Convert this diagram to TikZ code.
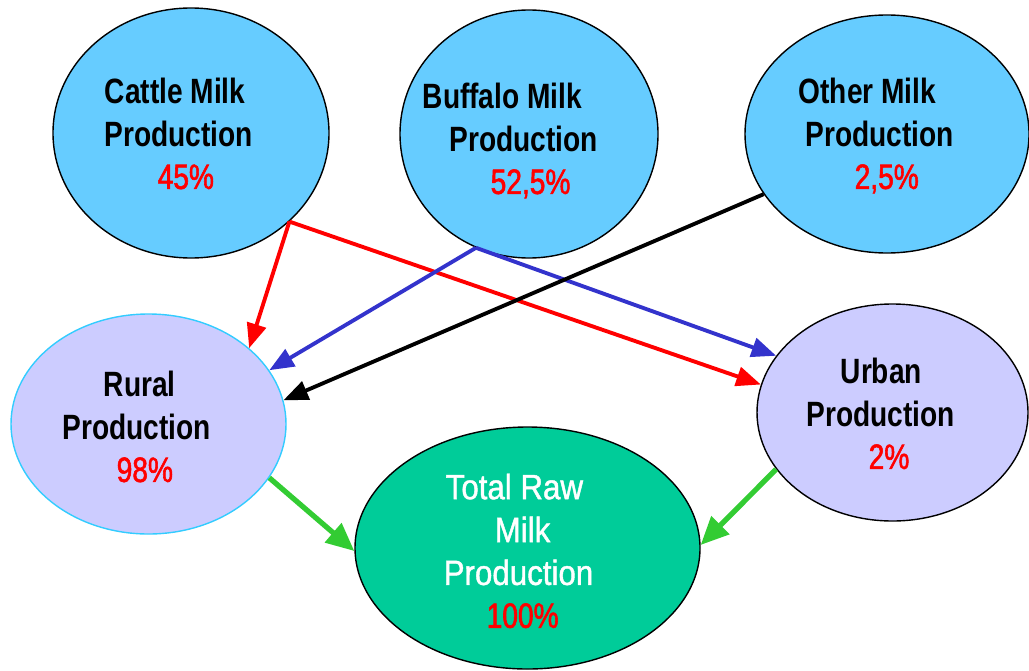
\documentclass[tikz,border=0pt]{standalone}
\usepackage{fontspec}
\usetikzlibrary{shapes.geometric,arrows.meta}
\newfontfamily\diagfont[FakeStretch=0.8]{Liberation Sans}
\newfontfamily\pctfont[FakeStretch=0.8,FakeBold=1.6]{Liberation Sans}
\newfontfamily\totalfont[FakeStretch=0.89,FakeBold=1.2]{Liberation Sans}
\definecolor{skyblue}{HTML}{66CCFF}
\definecolor{lavender}{HTML}{CCCCFF}
\definecolor{seagreen}{HTML}{00CC99}
\definecolor{pctred}{HTML}{FF0000}
\definecolor{arrowblue}{HTML}{3333CC}
\definecolor{arrowgreen}{HTML}{33CC33}
\definecolor{rimcyan}{HTML}{33CCFF}
\newcommand{\pct}[1]{{\pctfont\mdseries\color{pctred}#1}}

\begin{document}
\begin{tikzpicture}[
  blob/.style={ellipse, draw=black, line width=0.4pt, inner sep=0pt},
  lbl/.style={anchor=north west, align=left, inner sep=0pt,
    font=\diagfont\bfseries\fontsize{10}{12.2}\selectfont},
  feed/.style={line width=1.1pt, -{Triangle[length=7pt,width=5.5pt]}},
  sum/.style={line width=1.5pt, draw=arrowgreen, -{Triangle[length=8pt,width=7pt]}}]
  \useasboundingbox (0,0) rectangle (10.29,-6.70);
  \clip (0,0) rectangle (10.29,-6.70);
  % sources
  \node [blob, fill=skyblue, minimum width=2.76cm, minimum height=2.50cm] (cattle) at (1.91,-1.33) {};
  \node [blob, fill=skyblue, minimum width=2.58cm, minimum height=2.48cm] (buffalo) at (5.29,-1.34) {};
  \node [blob, fill=skyblue, minimum width=2.84cm, minimum height=2.38cm] (other) at (8.87,-1.34) {};
  % regions
  \node [blob, fill=lavender, draw=rimcyan, minimum width=2.75cm, minimum height=2.20cm] (rural) at (1.485,-4.24) {};
  \node [blob, fill=lavender, minimum width=2.71cm, minimum height=2.17cm] (urban) at (8.925,-4.125) {};
  % total
  \node [blob, fill=seagreen, minimum width=3.45cm, minimum height=2.42cm] (total) at (5.275,-5.48) {};
  % labels
  \node [lbl] (cattle-txt) at (1.04,-0.77) {Cattle Milk\\Production\\\hspace*{0.53cm}\pct{45\%}};
  \node [lbl] (buffalo-txt) at (4.22,-0.82) {Buffalo Milk\\\hspace*{0.27cm}Production\\\hspace*{0.68cm}\pct{52,5\%}};
  \node [lbl] (other-txt) at (7.98,-0.77) {Other Milk\\\hspace*{0.07cm}Production\\\hspace*{0.56cm}\pct{2,5\%}};
  \node [lbl] (rural-txt) at (0.62,-3.70) {\hspace*{0.41cm}Rural\\Production\\\hspace*{0.54cm}\pct{98\%}};
  \node [lbl] (urban-txt) at (8.06,-3.57) {\hspace*{0.34cm}Urban\\Production\\\hspace*{0.62cm}\pct{2\%}};
  \node [lbl, text=white, font=\totalfont\fontsize{10}{12.2}\selectfont] (total-txt) at (4.43,-4.73)
    {\hspace*{0.02cm}Total Raw\\\hspace*{0.51cm}Milk\\Production\\\hspace*{0.43cm}\pct{100\%}};
  % flows
  \draw [feed, pctred] (cattle.-42.5) -- (rural.37.3);
  \draw [feed, pctred] (cattle.-42.5) -- (urban.168.3);
  \draw [feed, arrowblue] (buffalo.-115.7) -- (rural.24.9);
  \draw [feed, arrowblue] (buffalo.-115.7) -- (urban.154.9);
  \draw [feed, black] (other.-154.2) -- (rural.10.1);
  \draw [sum] (rural.-24) -- (total.181);
  \draw [sum] (urban.-154.7) -- (total.1);
\end{tikzpicture}
\end{document}
